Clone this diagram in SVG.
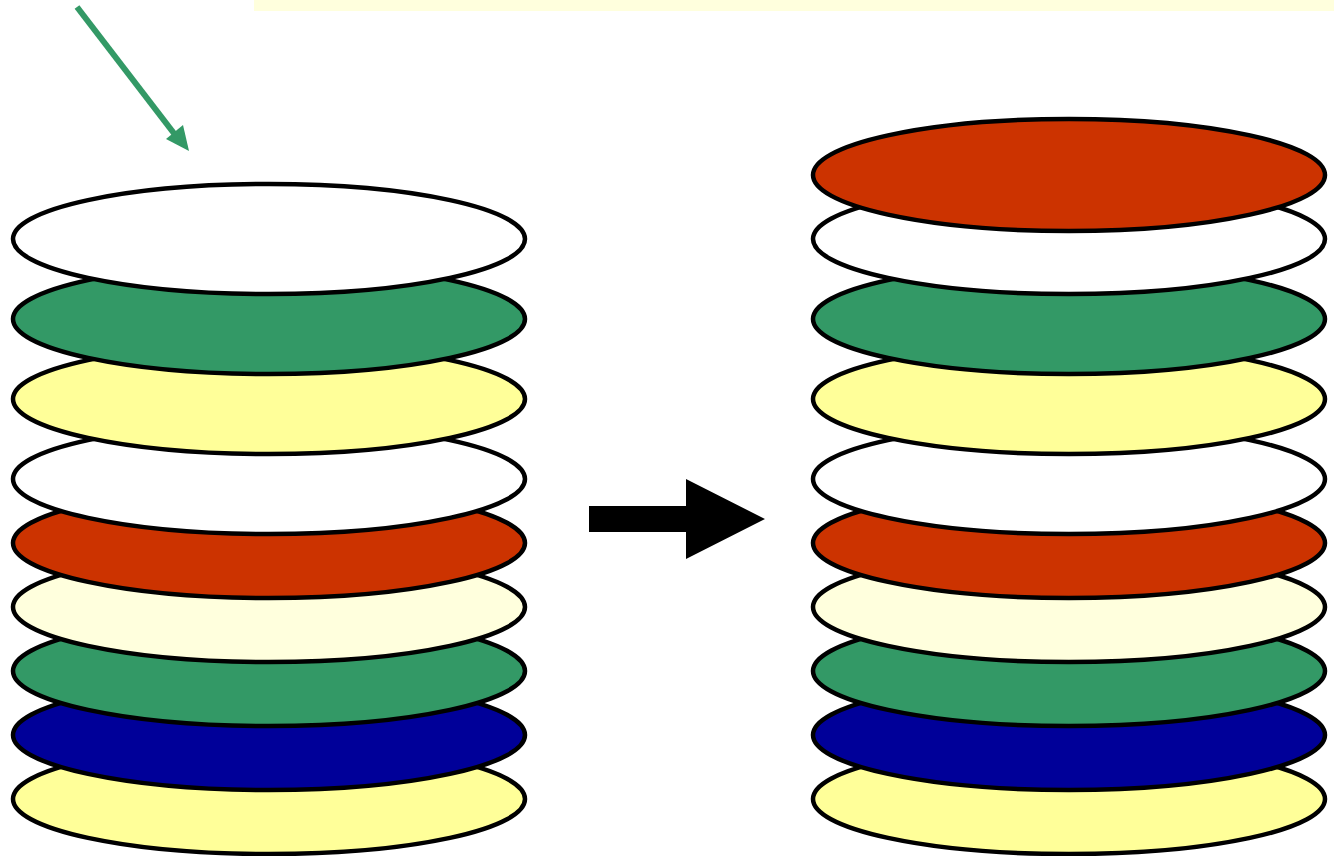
<svg xmlns="http://www.w3.org/2000/svg" width="1334" height="856" viewBox="0 0 1334 856">
<style>
.d{stroke:#000;stroke-width:4.5}
.w{fill:#FFFFFF}.g{fill:#339966}.y{fill:#FFFF99}.r{fill:#CC3300}.ly{fill:#FFFFDD}.b{fill:#000099}
</style>
<rect x="254" y="0" width="1080" height="11" fill="#FFFFDD"/>
<g id="left-stack">
<ellipse class="d y" cx="269" cy="799" rx="256" ry="55"/>
<ellipse class="d b" cx="269" cy="735" rx="256" ry="55"/>
<ellipse class="d g" cx="269" cy="671" rx="256" ry="55"/>
<ellipse class="d ly" cx="269" cy="607" rx="256" ry="55"/>
<ellipse class="d r" cx="269" cy="543" rx="256" ry="55"/>
<ellipse class="d w" cx="269" cy="479" rx="256" ry="55"/>
<ellipse class="d y" cx="269" cy="399" rx="256" ry="55"/>
<ellipse class="d g" cx="269" cy="319" rx="256" ry="55"/>
<ellipse class="d w" cx="269" cy="239" rx="256" ry="55"/>
</g>
<g id="right-stack">
<ellipse class="d y" cx="1069" cy="799" rx="256" ry="55"/>
<ellipse class="d b" cx="1069" cy="735" rx="256" ry="55"/>
<ellipse class="d g" cx="1069" cy="671" rx="256" ry="55"/>
<ellipse class="d ly" cx="1069" cy="607" rx="256" ry="55"/>
<ellipse class="d r" cx="1069" cy="543" rx="256" ry="55"/>
<ellipse class="d w" cx="1069" cy="479" rx="256" ry="55"/>
<ellipse class="d y" cx="1069" cy="399" rx="256" ry="55"/>
<ellipse class="d g" cx="1069" cy="319" rx="256" ry="55"/>
<ellipse class="d w" cx="1069" cy="239" rx="256" ry="55"/>
<ellipse class="d r" cx="1069" cy="175" rx="256" ry="56"/>
</g>
<g id="connectors">
<line x1="77" y1="7" x2="176" y2="136" stroke="#339966" stroke-width="6"/>
<polygon points="166,139 183,125 189,151" fill="#339966"/>
<polygon points="589,506 686,506 686,479 765,519 686,559 686,532 589,532" fill="#000"/>
</g>
</svg>
